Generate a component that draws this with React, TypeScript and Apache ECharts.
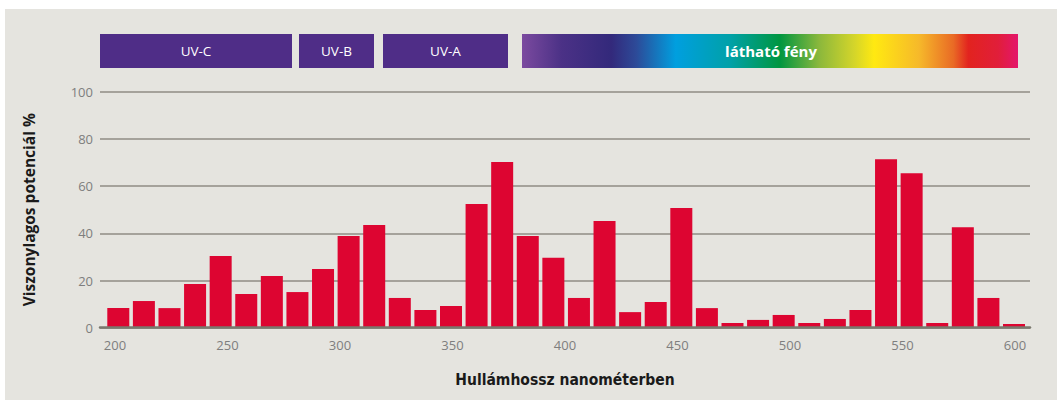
import React, { useEffect, useRef } from "react";
import * as echarts from "echarts";

// Wavelength bins (nm, approximate bin centres) and relative potential (%)
const wavelengths = [
  "201", "212", "223", "235", "246", "257", "269", "280", "291", "302", "314", "325",
  "336", "347", "359", "370", "381", "393", "404", "415", "426", "438", "449", "460",
  "472", "483", "494", "506", "517", "528", "539", "551", "562", "573", "585", "596",
];
const potential = [
  8.3, 11.3, 8.3, 18.5, 30.4, 14.3, 21.9, 15.1, 24.9, 38.9, 43.5, 12.6,
  7.5, 9.2, 52.4, 70.2, 38.9, 29.6, 12.6, 45.2, 6.6, 10.9, 50.7, 8.3,
  2.0, 3.3, 5.4, 2.0, 3.7, 7.5, 71.4, 65.4, 2.0, 42.6, 12.6, 1.6,
];
const xTickMin = 200;
const xTickMax = 600;
const xTickStep = 50;
const yTickMax = 100;
const yTickStep = 20;
const bandLabels = ["UV-C", "UV-B", "UV-A", "látható fény"];

const yName = "Viszonylagos potenciál %";
const xName = "Hullámhossz nanométerben";

export default function App() {
  const ref = useRef<HTMLDivElement>(null);
  useEffect(() => {
    if (!ref.current) return;
    const chart = echarts.init(ref.current, null, { renderer: "svg" });
    const top = 91.7;
    const bottom = 72.3;
    const tickFont = "'Open Sans', 'DejaVu Sans', sans-serif";
    const bandTop = 34;
    const bandH = 34;
    const bandX = [
      [100, 292],
      [299, 374],
      [383, 508],
      [522, 1018],
    ];
    const purple = "#4f2d87";
    const visGrad = new echarts.graphic.LinearGradient(0, 0, 1, 0, [
      { offset: 0, color: "#7b4a9f" },
      { offset: 0.08, color: "#4b3186" },
      { offset: 0.18, color: "#33297b" },
      { offset: 0.23, color: "#2d4a98" },
      { offset: 0.31, color: "#009fdf" },
      { offset: 0.42, color: "#00a1a8" },
      { offset: 0.52, color: "#009640" },
      { offset: 0.6, color: "#8cb83c" },
      { offset: 0.67, color: "#d4d52a" },
      { offset: 0.71, color: "#ffe911" },
      { offset: 0.8, color: "#f6b92a" },
      { offset: 0.87, color: "#e96a25" },
      { offset: 0.9, color: "#e2231f" },
      { offset: 0.96, color: "#e11e3a" },
      { offset: 1, color: "#e4166c" },
    ]);
    const graphics: any[] = [
      {
        type: "rect",
        z: -100,
        silent: true,
        shape: { x: 5, y: 9, width: 1052, height: 391 },
        style: { fill: "#e5e4df" },
      },
    ];
    bandLabels.forEach((lab, i) => {
      const [x0, x1] = bandX[i];
      const vis = i === 3;
      graphics.push({
        type: "rect",
        z: 10,
        shape: { x: x0, y: bandTop, width: x1 - x0, height: bandH },
        style: { fill: vis ? visGrad : purple },
      });
      graphics.push({
        type: "text",
        z: 11,
        x: vis ? 771 : (x0 + x1) / 2,
        y: bandTop + bandH / 2,
        style: {
          text: lab,
          fill: "#ffffff",
          align: "center",
          verticalAlign: "middle",
          font: vis
            ? "bold 15px 'Open Sans', sans-serif"
            : "13.5px 'Open Sans', sans-serif",
        },
      });
    });

    chart.setOption({
      animation: false,
      backgroundColor: "#ffffff",
      graphic: graphics,
      grid: [
        { left: 100, right: 27, top, bottom },
        { left: 105.5, right: 30.2, top, bottom },
        { left: 115, right: 42, top, bottom },
      ],
      xAxis: [
        {
          gridIndex: 0,
          type: "value",
          min: 0,
          max: 1,
          axisLabel: { show: false },
          axisTick: { show: false },
          splitLine: { show: false },
          axisLine: { show: true, lineStyle: { color: "#7a786e", width: 2.5 } },
          z: 3,
        },
        {
          gridIndex: 1,
          type: "category",
          data: wavelengths,
          axisLabel: { show: false },
          axisTick: { show: false },
          axisLine: { show: false },
        },
        {
          gridIndex: 2,
          type: "value",
          min: xTickMin,
          max: xTickMax,
          interval: xTickStep,
          axisLine: { show: false },
          axisTick: { show: false },
          splitLine: { show: false },
          axisLabel: {
            color: "#7e7e7e",
            fontSize: 13,
            fontFamily: tickFont,
            margin: 11,
          },
          name: xName,
          nameLocation: "middle",
          nameGap: 44,
          nameTextStyle: {
            color: "#1a1a1a",
            fontSize: 15.5,
            fontWeight: "bold",
            fontFamily: "'Liberation Sans Narrow', 'DejaVu Sans Condensed', 'Open Sans', sans-serif",
          },
        },
      ],
      yAxis: [
        {
          gridIndex: 0,
          type: "value",
          min: 0,
          max: yTickMax,
          interval: yTickStep,
          axisLine: { show: false },
          axisTick: { show: false },
          axisLabel: {
            color: "#7e7e7e",
            fontSize: 13,
            fontFamily: tickFont,
            margin: 7,
          },
          splitLine: { lineStyle: { color: "#8f8d84", width: 1.5 } },
          name: yName,
          nameLocation: "middle",
          nameGap: 63,
          nameRotate: 90,
          nameTextStyle: {
            color: "#1a1a1a",
            fontSize: 15.5,
            fontWeight: "bold",
            fontFamily: "'Open Sans', sans-serif",
          },
        },
        {
          gridIndex: 1,
          type: "value",
          min: 0,
          max: yTickMax,
          show: false,
        },
        {
          gridIndex: 2,
          type: "value",
          min: 0,
          max: yTickMax,
          show: false,
        },
      ],
      series: [
        {
          type: "bar",
          xAxisIndex: 1,
          yAxisIndex: 1,
          data: potential,
          barWidth: 22,
          itemStyle: { color: "#dd0531" },
          z: 2,
        },
      ],
    });
    return () => chart.dispose();
  }, []);
  return (
    <div
      ref={ref}
      style={{ position: "fixed", left: 0, top: 0, width: 1057, height: 400 }}
    />
  );
}
